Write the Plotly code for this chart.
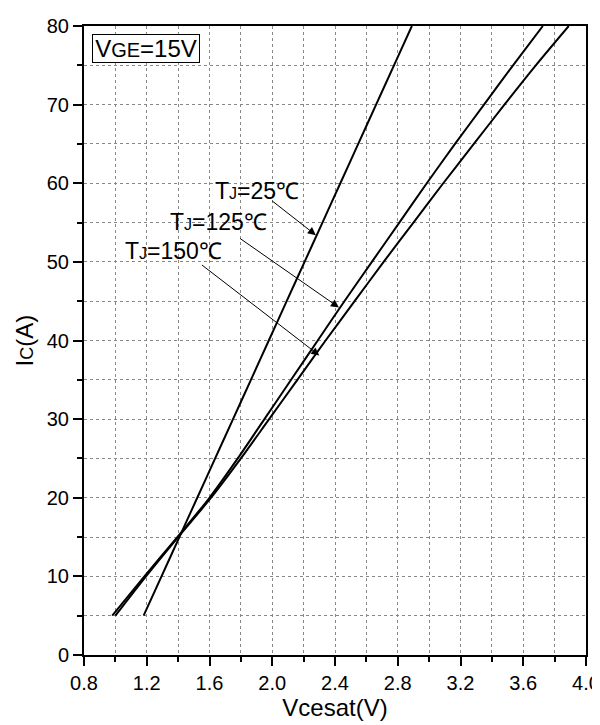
import plotly.graph_objects as go

# Collector current (A)
current = [5, 10, 15, 20, 25, 30, 35, 40, 45, 50, 55, 60, 65, 70, 75, 80]
# Vcesat (V) at each current, per junction temperature
v_25 = [1.18, 1.294, 1.408, 1.522, 1.636, 1.75, 1.864, 1.978, 2.092, 2.206, 2.32, 2.434, 2.548, 2.662, 2.776, 2.89]
v_125 = [0.98, 1.185, 1.395, 1.60, 1.78, 1.95, 2.12, 2.29, 2.46, 2.635, 2.81, 2.985, 3.165, 3.35, 3.535, 3.725]
v_150 = [1.00, 1.195, 1.40, 1.61, 1.80, 1.98, 2.16, 2.34, 2.525, 2.71, 2.90, 3.09, 3.285, 3.48, 3.68, 3.89]

series = [("TJ=25℃", v_25), ("TJ=125℃", v_125), ("TJ=150℃", v_150)]

x_ticks = [0.8, 1.2, 1.6, 2.0, 2.4, 2.8, 3.2, 3.6, 4.0]
x_tick_labels = ["0.8", "1.2", "1.6", "2.0", "2.4", "2.8", "3.2", "3.6", "4.0"]
y_ticks = [0, 10, 20, 30, 40, 50, 60, 70, 80]

# label text position (V, A), arrow tail (V, A), arrow tip (V, A)
labels = [
    ("T<span style='font-size:16px'>J</span>=25℃", (1.90, 59.0), (1.99, 57.9), (2.278, 53.4)),
    ("T<span style='font-size:16px'>J</span>=125℃", (1.66, 55.1), (1.786, 53.1), (2.425, 44.2)),
    ("T<span style='font-size:16px'>J</span>=150℃", (1.37, 51.4), (1.542, 49.75), (2.30, 38.1)),
]

FONT = "Liberation Sans, Arial, sans-serif"

fig = go.Figure()
for name, v in series:
    fig.add_trace(go.Scatter(x=v, y=current, mode="lines", name=name,
                             line=dict(color="black", width=2, shape="spline", smoothing=0.8),
                             showlegend=False))

for text, (tx, ty), (ax, ay), (px, py) in labels:
    fig.add_annotation(x=tx, y=ty, xref="x", yref="y", text=text, showarrow=False,
                       font=dict(family=FONT, size=23, color="black"),
                       xanchor="center", yanchor="middle")
    fig.add_annotation(x=px, y=py, ax=ax, ay=ay, xref="x", yref="y", axref="x", ayref="y",
                       text="", showarrow=True, arrowhead=2, arrowsize=1.6, arrowwidth=1,
                       arrowcolor="black", standoff=0, startstandoff=0)

fig.add_annotation(x=0.016, y=0.9875, xref="paper", yref="paper",
                   text="V<span style='font-size:20px'>GE</span>=15V", showarrow=False,
                   xanchor="left", yanchor="top", width=104, height=25, align="center",
                   font=dict(family=FONT, size=24, color="black"),
                   bordercolor="black", borderwidth=1, borderpad=1, bgcolor="white")

# y-axis title placed as rotated text left of the tick labels
fig.add_annotation(x=0, y=0.5, xref="paper", yref="paper", xshift=-60,
                   text="I<span style='font-size:18px'>C</span>(A)", showarrow=False,
                   textangle=-90, xanchor="center", yanchor="middle",
                   font=dict(family=FONT, size=24, color="black"))

grid = dict(showgrid=True, gridcolor="#888888", gridwidth=1, griddash="dot")
fig.update_xaxes(range=[0.8, 4.0], tickvals=x_ticks, ticktext=x_tick_labels,
                 ticks="outside", ticklen=9, tickwidth=2, tickcolor="black",
                 showline=True, linecolor="black", linewidth=2, mirror=True,
                 zeroline=False, ticklabeloverflow="allow", **grid,
                 minor=dict(dtick=0.2, tick0=0.8, ticks="outside", ticklen=5, tickwidth=2,
                            tickcolor="black", showgrid=True, gridcolor="#888888",
                            griddash="dot", gridwidth=1),
                 tickfont=dict(family=FONT, size=20, color="black"),
                 title=dict(text="Vcesat(V)", font=dict(family=FONT, size=24, color="black"),
                            standoff=0))
fig.update_yaxes(range=[0, 80], tickvals=y_ticks,
                 ticks="outside", ticklen=9, tickwidth=2, tickcolor="black",
                 showline=True, linecolor="black", linewidth=2, mirror=True,
                 zeroline=False, ticklabeloverflow="allow", **grid,
                 minor=dict(dtick=5, tick0=0, ticks="outside", ticklen=5, tickwidth=2,
                            tickcolor="black", showgrid=True, gridcolor="#888888",
                            griddash="dot", gridwidth=1),
                 tickfont=dict(family=FONT, size=20, color="black"))

fig.update_layout(width=600, height=725, plot_bgcolor="white", paper_bgcolor="white",
                  margin=dict(l=76, r=22, t=7, b=78), showlegend=False)

fig.write_html("out.html")
